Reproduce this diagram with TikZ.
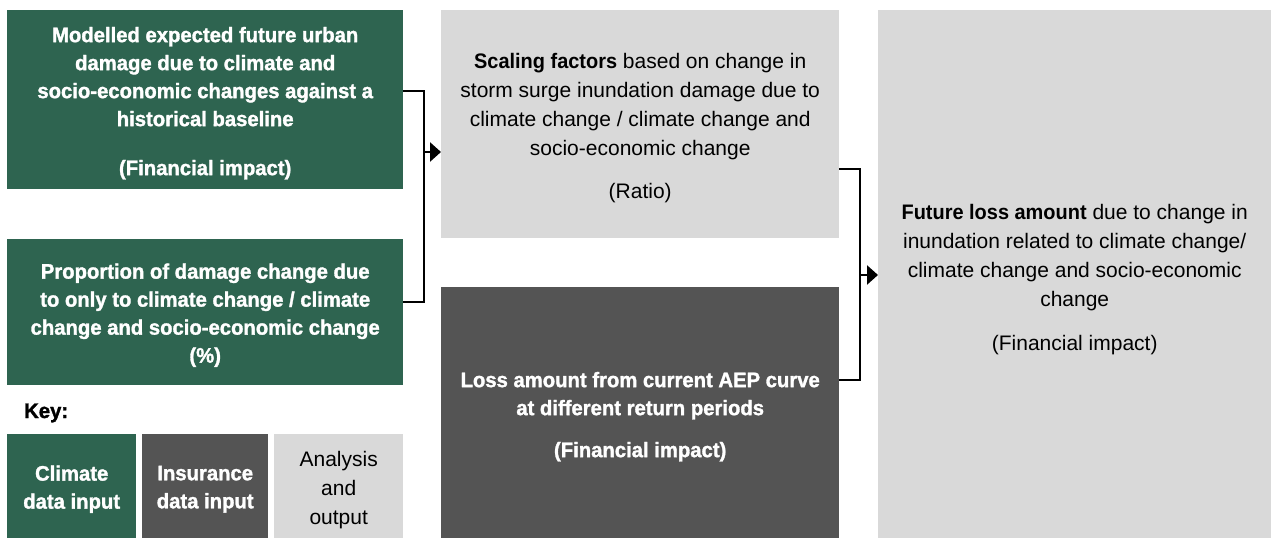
\documentclass[tikz,border=0pt]{standalone}
\usepackage{fontspec}
\setmainfont{Liberation Sans}[BoldFeatures={FakeStretch=0.95}]
\newfontfamily\heavyfont{Liberation Sans Bold}[FakeStretch=0.965,FakeBold=1.5]
\usetikzlibrary{arrows.meta,calc}
\definecolor{cgreen}{RGB}{46,100,80}
\definecolor{cdark}{RGB}{84,84,84}
\definecolor{clight}{RGB}{217,217,217}
\begin{document}
\begin{tikzpicture}[x=1pt,y=-1pt,
  box/.style={rectangle, inner sep=0pt, anchor=north west},
  greenbox/.style={box, fill=cgreen},
  darkbox/.style={box, fill=cdark},
  lightbox/.style={box, fill=clight},
  wtext/.style={inner sep=0pt, align=center, text=white, font=\fontsize{21}{28}\selectfont\heavyfont},
  btext/.style={inner sep=0pt, align=center, text=black, font=\fontsize{21}{29}\selectfont},
  conn/.style={line width=2.5pt, line join=miter},
  arr/.style={line width=2.5pt, -{Triangle[length=11pt,width=19pt]}}
]
\useasboundingbox (0,0) rectangle (1271,538);

\node[greenbox, minimum width=396pt, minimum height=179pt] (A) at (7,10) {};
\node[wtext] (At) at ($(A.center)+(0,3.5)$)
  {Modelled expected future urban\\damage due to climate and\\socio-economic changes against a\\historical baseline\\[21pt](Financial impact)};
\node[greenbox, minimum width=396pt, minimum height=146pt] (B) at (7,239) {};
\node[wtext] (Bt) at ($(B.center)+(0,3)$)
  {Proportion of damage change due\\to only to climate change / climate\\change and socio-economic change\\(\%)};
\node[lightbox, minimum width=398pt, minimum height=228pt] (C) at (441,10) {};
\node[btext] (Ct) at ($(C.center)+(0,4)$)
  {\textbf{Scaling factors} based on change in\\storm surge inundation damage due to\\climate change / climate change and\\socio-economic change\\[14pt](Ratio)};
\node[darkbox, minimum width=398pt, minimum height=251pt] (D) at (441,287) {};
\node[wtext] (Dt) at ($(D.center)+(0,4)$)
  {Loss amount from current AEP curve\\at different return periods\\[14pt](Financial impact)};
\node[lightbox, minimum width=393pt, minimum height=528pt] (E) at (878,10) {};
\node[btext] (Et) at ($(E.center)+(0,5)$)
  {\textbf{Future loss amount} due to change in\\inundation related to climate change/\\climate change and socio-economic\\change\\[15pt](Financial impact)};

\node[anchor=base west, inner sep=0pt, font=\fontsize{21}{24}\selectfont\heavyfont] (key) at (24,418) {Key:};
\node[greenbox, minimum width=129pt, minimum height=104pt] (K1) at (7,434) {};
\node[wtext] (K1t) at ($(K1.center)+(0,3)$) {Climate\\data input};
\node[darkbox, minimum width=126pt, minimum height=104pt] (K2) at (142,434) {};
\node[wtext] (K2t) at ($(K2.center)+(0,3)$) {Insurance\\data input};
\node[lightbox, minimum width=129pt, minimum height=104pt] (K3) at (274,434) {};
\node[btext] (K3t) at ($(K3.center)+(0,3.5)$) {Analysis\\and\\output};

\coordinate (j1) at (424,152);
\draw[conn] ($(A.north east)+(0,81)$) -| (j1) |- ($(B.north east)+(0,63)$);
\draw[arr] (j1) -- (j1 -| C.west);

\coordinate (j2) at (860,275);
\draw[conn] ($(C.north east)+(0,159)$) -| (j2) |- ($(D.north east)+(0,93)$);
\draw[arr] (j2) -- (j2 -| E.west);
\end{tikzpicture}
\end{document}
